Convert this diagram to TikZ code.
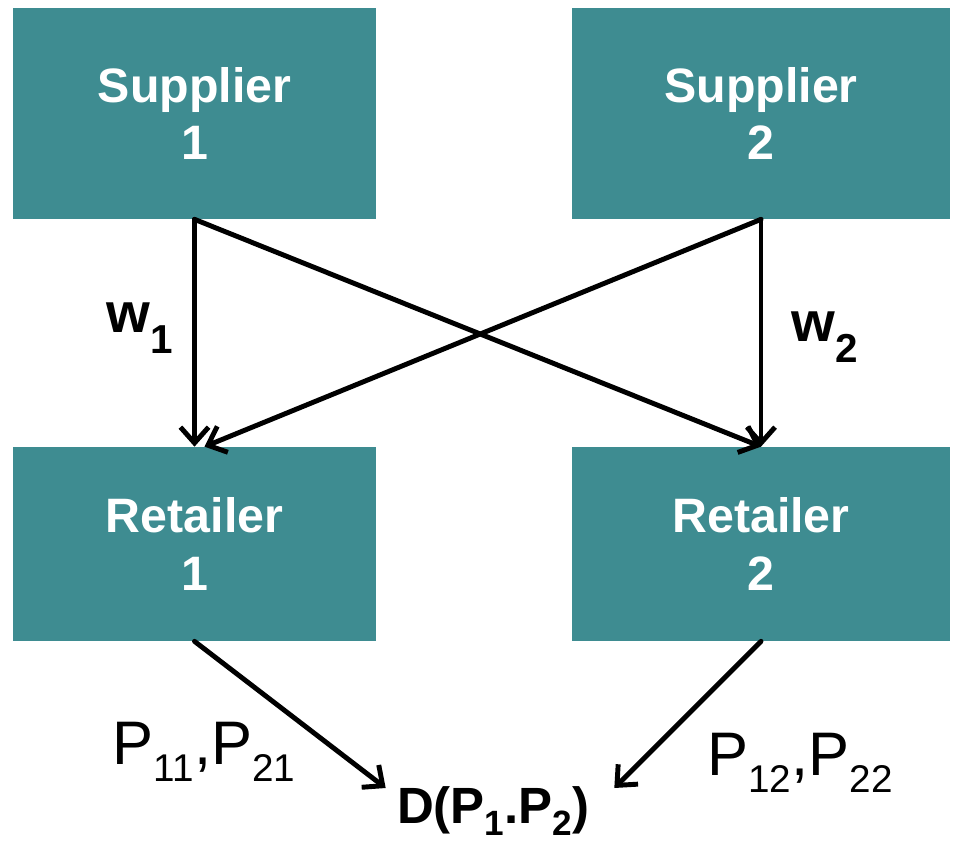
\documentclass[tikz,border=0pt]{standalone}
\usepackage{fontspec}
\setmainfont{Liberation Sans}
\usepackage{tikz}
\usetikzlibrary{arrows.meta,positioning}

\definecolor{boxteal}{HTML}{3E8C91}
% lowered subscript: depth, size, text
\newcommand{\lowsub}[3]{\raisebox{-#1}{\fontsize{#2}{#2}\selectfont #3}}

\begin{document}
\begin{tikzpicture}[x=0.02cm,y=-0.02cm,
  box/.style={fill=boxteal,text=white,align=center,inner sep=0pt,
    font=\fontsize{27.5}{32.5}\selectfont\bfseries},
  flow/.style={-{Straight Barb[length=9pt,width=16pt,line width=2.8pt]},line width=2.8pt,line cap=round}]
  \useasboundingbox (0,0) rectangle (953,844);
  \node (s1) [box,minimum width=7.26cm,minimum height=4.22cm] at (194.5,113.5) {Supplier\\1};
  \node (s2) [box,minimum width=7.56cm,minimum height=4.22cm] at (761,113.5) {Supplier\\2};
  \node (r1) [box,minimum width=7.26cm,minimum height=3.88cm] at (194.5,544) {Retailer\\1};
  \node (r2) [box,minimum width=7.56cm,minimum height=3.88cm] at (761,544) {Retailer\\2};
  \node (w1) [inner sep=0pt,font=\fontsize{32}{32}\selectfont\bfseries] at (140,328) {w\lowsub{12pt}{23}{1}};
  \node (w2) [inner sep=0pt,font=\fontsize{32}{32}\selectfont\bfseries] at (825,337) {w\lowsub{12pt}{23}{2}};
  \node (p1) [inner sep=0pt,font=\fontsize{35}{35}\selectfont] at (204,752) {P\lowsub{9.6pt}{22}{11},P\lowsub{9.6pt}{22}{21}};
  \node (p2) [inner sep=0pt,font=\fontsize{35}{35}\selectfont] at (800,763) {P\lowsub{9.6pt}{22}{12},P\lowsub{9.6pt}{22}{22}};
  \node (d) [inner sep=0pt,anchor=north,font=\fontsize{29}{29}\selectfont\bfseries] at (493,786) {D(P\lowsub{7pt}{20}{1}.P\lowsub{7pt}{20}{2})};
  % supply links
  \draw[flow] (s1.south) -- (r1.north);
  \draw[flow] (s2.south) -- (r2.north);
  \draw[flow] (s1.south) -- (r2.north);
  \draw[flow] (s2.south) -- ([xshift=0.2cm]r1.north);
  % demand links
  \draw[flow] (r1.south) -- ([xshift=-0.22cm,yshift=-0.04cm]d.north west);
  \draw[flow] (r2.south) -- ([xshift=0.5cm,yshift=-0.04cm]d.north east);
\end{tikzpicture}
\end{document}
